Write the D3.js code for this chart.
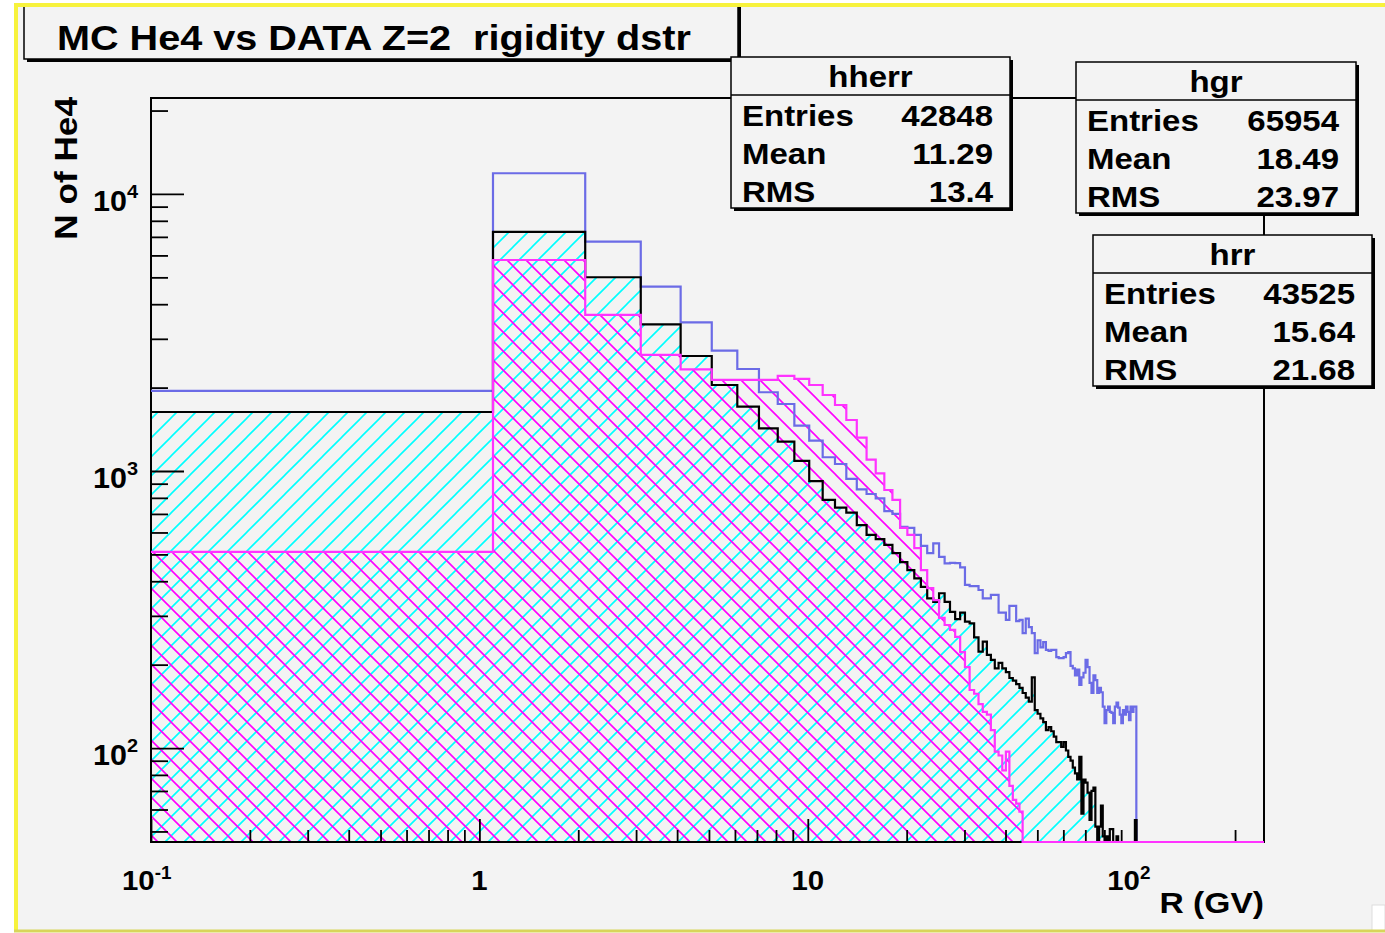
<!DOCTYPE html>
<html>
<head>
<meta charset="utf-8">
<script src="https://cdn.jsdelivr.net/npm/d3@7"></script>
<style>
  body { margin: 0; background: #fff; }
  text { font-family: "Liberation Sans", Arial, sans-serif; font-weight: bold; fill: #000; }
</style>
</head>
<body>
<svg width="1385" height="933"></svg>
<script>
// bins are 1 GV wide, bin i covers [i+0.1, i+1.1]
const binLow = 0.1, binWidth = 1;

// hgr : blue outline
const hgr = [1945, 11876, 6726, 4627, 3442, 2718, 2334, 1924, 1745, 1457,
  1287, 1121, 1060, 936, 859, 826, 797, 717, 700, 628,
  623, 588, 537, 505, 548, 490, 464, 466, 465, 449,
  388, 384, 384, 372, 347, 347, 357, 357, 308, 308,
  290, 326, 326, 287, 290, 260, 293, 273, 260, 220,
  245, 231, 241, 226, 224, 226, 226, 213, 211, 211,
  213, 220, 222, 198, 194, 183, 192, 169, 180, 187,
  208, 196, 172, 158, 183, 176, 158, 165, 159, 141,
  123, 137, 141, 135, 134, 123, 141, 146, 140, 132,
  123, 137, 132, 141, 135, 126, 141, 135, 141, 141];

// hrr : black outline, cyan hatch
const hrr = [1633, 7292, 5005, 3385, 2601, 2044, 1707, 1426, 1276, 1087,
  920, 786, 738, 708, 638, 588, 568, 541, 505, 469,
  439, 410, 382, 347, 337, 362, 337, 310, 292, 308,
  286, 282, 251, 223, 242, 217, 208, 194, 203, 194,
  188, 179, 175, 170, 165, 158, 152, 147, 180, 137,
  133, 128, 124, 116, 119, 115, 110, 105, 105, 101,
  105, 98, 93, 90, 85, 81, 77, 93, 58, 77,
  75, 69, 55, 70, 72, 52, 0, 52, 62, 48,
  0, 48, 0, 51, 51, 0, 0, 48, 0, 0,
  0, 0, 0, 0, 0, 0, 0, 0, 0, 55];

// hherr : magenta outline, magenta hatch
const hherr = [511, 5776, 3659, 2623, 2328, 2131, 2131, 2131, 2203, 2149,
  2044, 1881, 1731, 1528, 1320, 1100, 980, 854, 786, 623,
  588, 527, 439, 378, 342, 295, 278, 267, 252, 222,
  196, 162, 157, 144, 135, 132, 116, 97, 94, 83,
  97, 73, 65, 63, 59];

const statNames = ["hherr", "hgr", "hrr"];
const statEntries = ["42848", "65954", "43525"];
const statMean = ["11.29", "18.49", "15.64"];
const statRMS = ["13.4", "23.97", "21.68"];

const xMajor = [0.1, 1, 10, 100];
const xMinor = [0.2, 0.3, 0.4, 0.5, 0.6, 0.7, 0.8, 0.9, 2, 3, 4, 5, 6, 7, 8, 9,
  20, 30, 40, 50, 60, 70, 80, 90, 200];
const xLabels = [["10", "-1"], ["1", ""], ["10", ""], ["10", "2"]];
const yMajor = [100, 1000, 10000];
const yMinor = [50, 60, 70, 80, 90, 200, 300, 400, 500, 600, 700, 800, 900,
  2000, 3000, 4000, 5000, 6000, 7000, 8000, 9000, 20000];
const yLabels = ["2", "3", "4"];

const svg = d3.select("svg");
const fLeft = 151, fRight = 1264, fTop = 98, fBottom = 842;
const x = d3.scaleLog().domain([0.1, 245]).range([fLeft, fRight]);
const y = d3.scaleLog().domain([45.8, 22200]).range([fBottom, fTop]);
const ymin = y.domain()[0];

// canvas
svg.append("rect").attr("x", 16).attr("y", 5).attr("width", 1369).attr("height", 926).attr("fill", "#f3f3f3");
svg.append("rect").attr("x", 1372).attr("y", 905).attr("width", 13).attr("height", 26)
    .attr("fill", "#fff").attr("stroke", "#ddd");

const defs = svg.append("defs");
defs.append("clipPath").attr("id", "frame")
    .append("rect").attr("x", fLeft).attr("y", fTop).attr("width", fRight - fLeft).attr("height", fBottom - fTop);

function hatch(id, color, d) {
  defs.append("pattern").attr("id", id).attr("patternUnits", "userSpaceOnUse")
      .attr("width", 19).attr("height", 19)
      .append("path").attr("d", d).attr("stroke", color).attr("stroke-width", 1.6).attr("fill", "none");
}
hatch("cyanHatch", "#00ffff", "M-2,2 L2,-2 M0,19 L19,0 M17,21 L21,17");
hatch("magHatch", "#ff00ff", "M-2,17 L2,21 M0,0 L19,19 M17,-2 L21,2");

// step outline; zero bins run along the bottom of the frame
function stepPoints(vals) {
  const pts = [];
  vals.forEach(function(v, i) {
    const yy = y(Math.max(v, ymin));
    pts.push([x(binLow + i * binWidth), yy]);
    pts.push([x(binLow + (i + 1) * binWidth), yy]);
  });
  pts.push([x(binLow + vals.length * binWidth), fBottom]);
  pts.push([fRight, fBottom]);
  return pts;
}

const line = d3.line();
const plot = svg.append("g").attr("clip-path", "url(#frame)");

// fills
[[hrr, "url(#cyanHatch)"], [hherr, "url(#magHatch)"]].forEach(function(h) {
  const pts = [[x(binLow), fBottom]].concat(stepPoints(h[0]));
  plot.append("path").attr("d", line(pts) + "Z").attr("fill", h[1]);
});

// axes (ticks inside the frame)
function ticks(axis, pos) {
  const g = svg.append("g").attr("transform", pos).call(axis);
  g.select(".domain").remove();
  g.selectAll(".tick line").attr("stroke", "#000").attr("stroke-width", 1.8);
  return g;
}
ticks(d3.axisBottom(x).tickValues(xMinor).tickSize(-12).tickFormat(""), `translate(0,${fBottom})`);
ticks(d3.axisBottom(x).tickValues(xMajor).tickSize(-23).tickFormat(""), `translate(0,${fBottom})`);
ticks(d3.axisLeft(y).tickValues(yMinor).tickSize(-17).tickFormat(""), `translate(${fLeft},0)`);
ticks(d3.axisLeft(y).tickValues(yMajor).tickSize(-33).tickFormat(""), `translate(${fLeft},0)`);

svg.append("rect").attr("x", fLeft).attr("y", fTop).attr("width", fRight - fLeft).attr("height", fBottom - fTop)
    .attr("fill", "none").attr("stroke", "#000").attr("stroke-width", 2);

// outlines on top of the frame
[[hgr, "#6b6be6"], [hrr, "#000"], [hherr, "#ff33ff"]].forEach(function(h) {
  svg.append("path").attr("d", line(stepPoints(h[0]))).attr("fill", "none")
      .attr("stroke", h[1]).attr("stroke-width", 2.2);
});

function stext(g, px, py, str, size, anchor, sx, rot) {
  return g.append("text")
      .attr("transform", `translate(${px},${py})` + (rot ? ` rotate(${rot})` : "") + ` scale(${sx},1)`)
      .attr("text-anchor", anchor).style("font-size", size + "px").style("white-space", "pre")
      .text(str);
}

// x labels
xMajor.forEach(function(v, i) {
  const lab = xLabels[i];
  if (lab[1] === "") {
    stext(svg, x(v), 890, lab[0], 28, "middle", 1.05);
  } else {
    const t = stext(svg, x(v) - 29, 890, lab[0], 28, "start", 1.05);
    t.append("tspan").attr("dy", -11).style("font-size", "18px").text(lab[1]);
  }
});
stext(svg, fRight, 913, "R (GV)", 30, "end", 1.12);

// y labels
yMajor.forEach(function(v, i) {
  const t = stext(svg, 138, y(v) + 17, "10", 29, "end", 1.05);
  t.append("tspan").attr("dy", -13).style("font-size", "19px").text(yLabels[i]);
});
stext(svg, 77, 97, "N of He4", 32, "end", 1.1, -90);

// title box
function box(bx, by, bw, bh) {
  svg.append("rect").attr("x", bx + 3).attr("y", by + 3).attr("width", bw).attr("height", bh).attr("fill", "#000");
  svg.append("rect").attr("x", bx).attr("y", by).attr("width", bw).attr("height", bh)
      .attr("fill", "#f3f3f3").attr("stroke", "#000").attr("stroke-width", 1.5);
}
box(24, 4, 714, 55);
stext(svg, 57, 50, "MC He4 vs DATA Z=2  rigidity dstr", 36, "start", 1.1);

// stats boxes
const boxPos = [[731, 57, 279], [1076, 62, 280], [1093, 235, 279]];
boxPos.forEach(function(p, i) {
  const [bx, by, bw] = p;
  box(bx, by, bw, 151);
  svg.append("line").attr("x1", bx).attr("x2", bx + bw).attr("y1", by + 38).attr("y2", by + 38)
      .attr("stroke", "#000").attr("stroke-width", 1.5);
  stext(svg, bx + bw / 2, by + 30, statNames[i], 30, "middle", 1.1);
  const rows = [["Entries", statEntries[i]], ["Mean", statMean[i]], ["RMS", statRMS[i]]];
  rows.forEach(function(r, k) {
    stext(svg, bx + 11, by + 69 + k * 38, r[0], 30, "start", 1.1);
    stext(svg, bx + bw - 17, by + 69 + k * 38, r[1], 30, "end", 1.1);
  });
});

// yellow canvas border
svg.append("line").attr("x1", 14).attr("x2", 1385).attr("y1", 5).attr("y2", 5).attr("stroke", "#f7f23c").attr("stroke-width", 4);
svg.append("line").attr("x1", 16).attr("x2", 16).attr("y1", 3).attr("y2", 931).attr("stroke", "#f7f23c").attr("stroke-width", 4);
svg.append("line").attr("x1", 14).attr("x2", 1385).attr("y1", 931).attr("y2", 931).attr("stroke", "#d8d55a").attr("stroke-width", 3);
</script>
</body>
</html>
